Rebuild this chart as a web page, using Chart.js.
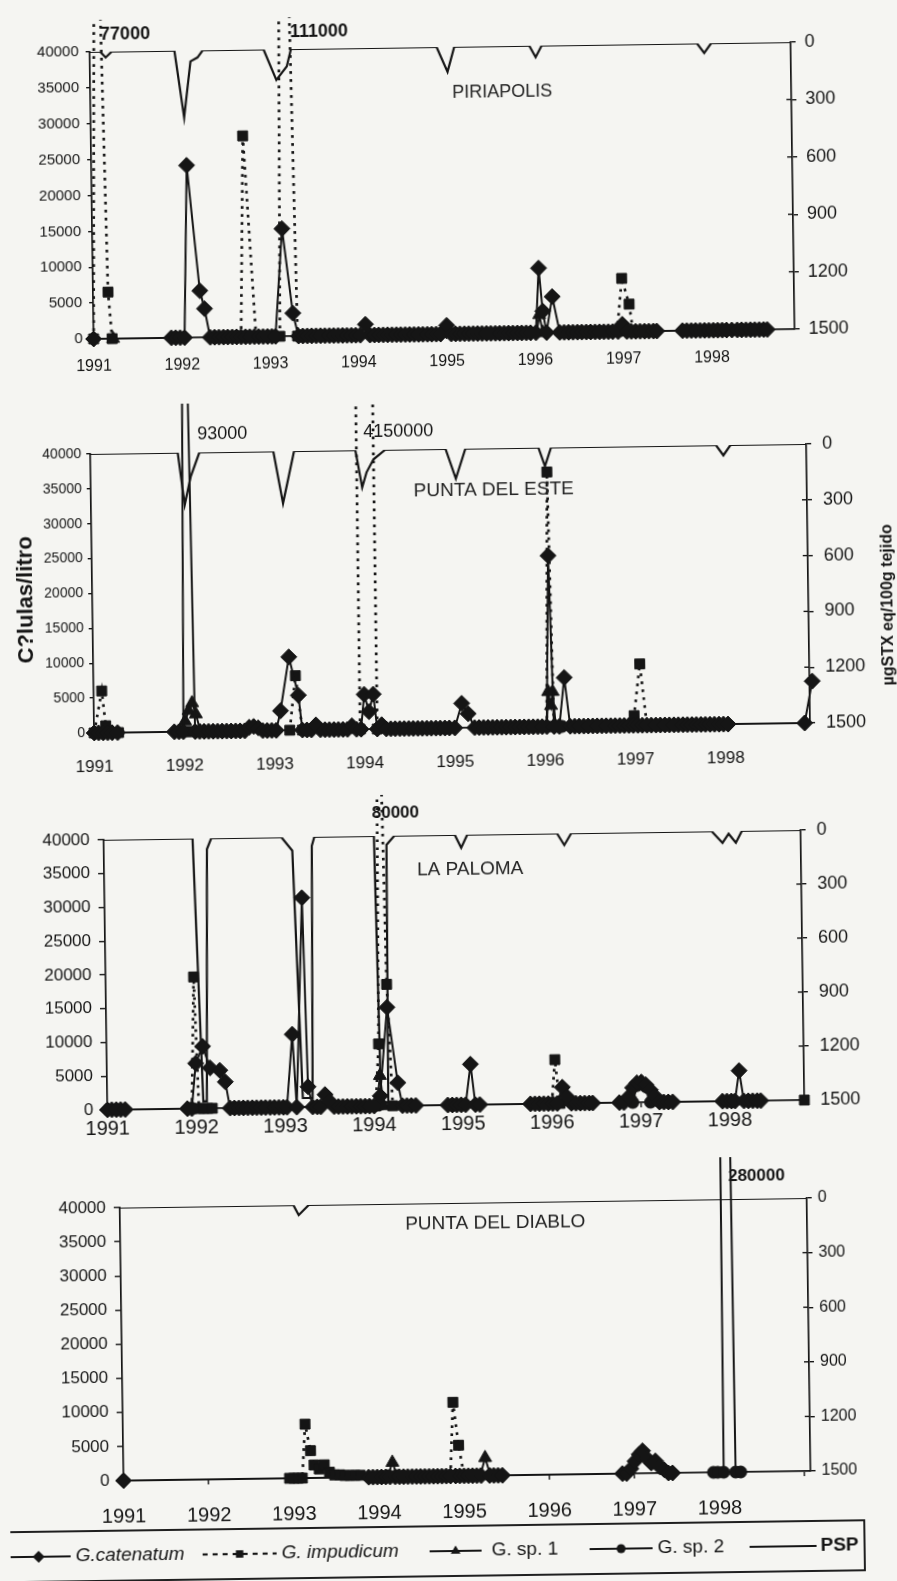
<!DOCTYPE html>
<html>
<head>
<meta charset="utf-8">
<script src="https://cdn.jsdelivr.net/npm/chart.js@4.4.1/dist/chart.umd.min.js"></script>
<style>
html,body{margin:0;padding:0;background:#f5f5f2;}
body{width:897px;height:1581px;overflow:hidden;position:relative;}
#page{position:absolute;left:0;top:0;width:897px;height:1581px;transform:rotate(-0.8deg);transform-origin:448.5px 790.5px;}
#page canvas{position:absolute;left:0;}
.ytitle{position:absolute;white-space:nowrap;font-family:'Liberation Sans',Arial,sans-serif;font-weight:bold;color:#161616;transform:translate(-50%,-50%) rotate(-90deg);}
</style>
</head>
<body>
<div id="page">
  <canvas id="c1" width="897" height="379" style="top:0px"></canvas>
  <canvas id="c2" width="897" height="387" style="top:389px"></canvas>
  <canvas id="c3" width="897" height="369" style="top:776px"></canvas>
  <canvas id="c4" width="897" height="436" style="top:1145px"></canvas>
  <div class="ytitle" style="left:28px;top:594px;font-size:22px">C?lulas/litro</div>
  <div class="ytitle" style="left:890px;top:611px;font-size:16px">µgSTX eq/100g tejido</div>
</div>
<script>
// ---------------- DATA ----------------
const yearLabels = ['1991','1992','1993','1994','1995','1996','1997','1998'];
const seriesNames = ['G.catenatum','G. impudicum','G. sp. 1','G. sp. 2','PSP'];
const stationNames = ['PIRIAPOLIS','PUNTA DEL ESTE','LA PALOMA','PUNTA DEL DIABLO'];

// PIRIAPOLIS  [decimal year, cells/litre]
const piriCatenatum = [
 [1991.00,0],
 [1991.88,0],[1991.93,0],[1991.98,0],[1992.03,0],[1992.08,24000],[1992.21,6500],[1992.26,4000],
 [1992.32,0],[1992.37,0],[1992.42,0],[1992.47,0],[1992.52,0],[1992.57,0],[1992.62,0],[1992.67,0],[1992.72,0],[1992.77,0],[1992.82,0],[1992.87,0],[1992.92,0],[1992.97,0],[1993.02,0],[1993.06,0],
 [1993.15,15000],[1993.26,3200],
 [1993.32,0],[1993.37,0],[1993.42,0],[1993.47,0],[1993.52,0],[1993.57,0],[1993.62,0],[1993.67,0],[1993.72,0],[1993.77,0],[1993.82,0],[1993.87,0],[1993.92,0],[1993.97,0],[1994.02,0],[1994.08,1500],
 [1994.13,0],[1994.18,0],[1994.23,0],[1994.28,0],[1994.33,0],[1994.38,0],[1994.43,0],[1994.48,0],[1994.53,0],[1994.58,0],[1994.63,0],[1994.68,0],[1994.73,0],[1994.78,0],[1994.83,0],[1994.88,0],[1994.93,0],[1995.00,1200],
 [1995.05,0],[1995.10,0],[1995.15,0],[1995.20,0],[1995.25,0],[1995.30,0],[1995.35,0],[1995.40,0],[1995.45,0],[1995.50,0],[1995.55,0],[1995.60,0],[1995.65,0],[1995.70,0],[1995.75,0],[1995.80,0],[1995.85,0],[1995.90,0],[1995.95,0],
 [1996.01,0],[1996.05,9000],[1996.09,3000],[1996.13,0],[1996.20,5000],[1996.28,0],
 [1996.33,0],[1996.38,0],[1996.43,0],[1996.48,0],[1996.53,0],[1996.58,0],[1996.63,0],[1996.68,0],[1996.73,0],[1996.78,0],[1996.83,0],[1996.88,0],[1996.94,0],[1996.99,1000],
 [1997.04,0],[1997.09,0],[1997.14,0],[1997.19,0],[1997.24,0],[1997.29,0],[1997.34,0],[1997.38,0],
 [1997.67,0],[1997.72,0],[1997.77,0],[1997.82,0],[1997.87,0],[1997.92,0],[1997.97,0],[1998.02,0],[1998.07,0],[1998.12,0],[1998.17,0],[1998.23,0],
 [1998.29,0],[1998.34,0],[1998.39,0],[1998.44,0],[1998.49,0],[1998.54,0],[1998.59,0],[1998.63,0]
];
const piriImpudicum = [
 [1991.00,0],[1991.09,77000],[1991.17,6500],[1991.21,0],[1991.5,null],
 [1992.67,0],[1992.72,28000],[1992.84,0],[1993.0,null],
 [1993.11,0],[1993.20,111000],[1993.31,0],[1995.0,null],
 [1996.93,0],[1996.99,7400],[1997.07,3800],[1997.11,0]
];
const piriSp1 = [[1991.22,0],[1991.5,null],[1996.02,0],[1996.05,2500],[1996.09,0]];
const piriSp2 = [[1997.72,0],[1997.82,0],[1997.92,0],[1998.02,0],[1998.12,0],[1998.34,0],[1998.44,0],[1998.54,0]];
// PSP  [decimal year, µgSTX eq/100g]
const piriPsp = [
 [1991.00,0],[1991.12,0],[1991.18,30],[1991.25,0],
 [1991.96,0],[1992.06,350],[1992.14,57],[1992.22,37],[1992.28,0],
 [1992.97,0],[1993.11,160],[1993.23,90],[1993.28,0],
 [1994.93,0],[1995.05,130],[1995.13,0],
 [1995.98,0],[1996.05,60],[1996.12,0],
 [1997.88,0],[1997.96,50],[1998.04,0],
 [1998.94,0]
];
const piriPeakLabels = [[1991.12,'77000'],[1993.27,'111000']];

// PUNTA DEL ESTE
const pdeCatenatum = [
 [1991.00,0],[1991.05,0],[1991.10,0],[1991.15,0],[1991.20,0],[1991.26,0],
 [1991.89,0],[1991.94,0],[1991.99,0],[1992.06,93000],[1992.12,0],
 [1992.17,0],[1992.22,0],[1992.27,0],[1992.32,0],[1992.37,0],[1992.42,0],[1992.47,0],[1992.52,0],[1992.57,0],[1992.62,0],[1992.67,0],[1992.72,500],[1992.77,600],[1992.82,400],[1992.87,0],[1992.92,0],[1992.97,0],[1993.02,0],
 [1993.07,2800],[1993.17,10500],[1993.27,5000],[1993.31,0],
 [1993.36,0],[1993.41,0],[1993.46,700],[1993.51,0],[1993.56,0],[1993.61,0],[1993.66,0],[1993.71,0],[1993.76,0],[1993.81,0],[1993.86,500],[1993.91,0],[1993.96,0],
 [1994.00,5000],[1994.05,2500],[1994.10,5000],[1994.14,0],
 [1994.19,600],[1994.24,0],[1994.29,0],[1994.34,0],[1994.39,0],[1994.44,0],[1994.49,0],[1994.54,0],[1994.59,0],[1994.64,0],[1994.69,0],[1994.74,0],[1994.79,0],[1994.84,0],[1994.89,0],[1994.94,0],[1995.00,0],
 [1995.08,3500],[1995.15,2000],[1995.22,0],
 [1995.27,0],[1995.32,0],[1995.37,0],[1995.42,0],[1995.47,0],[1995.52,0],[1995.57,0],[1995.62,0],[1995.67,0],[1995.72,0],[1995.77,0],[1995.82,0],[1995.87,0],[1995.92,0],[1995.97,0],[1996.02,0],
 [1996.06,24500],[1996.10,0],[1996.16,0],[1996.22,7000],[1996.28,0],
 [1996.33,0],[1996.38,0],[1996.43,0],[1996.48,0],[1996.53,0],[1996.58,0],[1996.63,0],[1996.68,0],[1996.73,0],[1996.78,0],[1996.83,0],[1996.88,0],[1996.93,0],[1996.98,0],
 [1997.03,0],[1997.08,0],[1997.13,0],[1997.18,0],[1997.23,0],[1997.28,0],[1997.33,0],[1997.38,0],[1997.43,0],[1997.48,0],[1997.53,0],[1997.58,0],[1997.63,0],[1997.68,0],[1997.73,0],[1997.78,0],[1997.83,0],[1997.88,0],[1997.93,0],[1997.98,0],[1998.03,0],
 [1998.88,0],[1998.97,6000]
];
const pdeImpudicum = [
 [1991.00,0],[1991.09,6000],[1991.13,1000],[1991.17,0],[1991.22,0],[1991.27,0],[1991.5,null],
 [1991.92,0],[1991.97,0],[1992.02,0],[1992.08,0],[1992.13,0],[1992.18,0],[1992.23,0],[1992.5,null],
 [1993.17,0],[1993.24,7800],[1993.31,0],[1993.6,null],
 [1993.95,0],[1994.05,4150000],[1994.14,0],[1994.5,null],
 [1996.02,0],[1996.06,36500],[1996.10,0],[1996.5,null],
 [1996.95,0],[1996.99,1400],[1997.06,8800],[1997.13,0]
];
const pdeSp1 = [
 [1991.95,0],[1992.01,1500],[1992.05,3000],[1992.09,4100],[1992.13,2500],[1992.18,0],[1992.5,null],
 [1996.02,0],[1996.04,5000],[1996.07,3000],[1996.09,5000],[1996.12,0]
];
const pdeSp2 = [[1996.14,0],[1996.19,0],[1996.5,null],[1997.55,0],[1997.65,0],[1997.75,0]];
const pdePsp = [
 [1991.00,0],[1991.97,0],[1992.04,280],[1992.11,130],[1992.21,0],
 [1993.03,0],[1993.13,280],[1993.26,0],
 [1993.94,0],[1994.01,200],[1994.06,120],[1994.14,50],[1994.27,0],
 [1994.94,0],[1995.05,160],[1995.16,0],
 [1995.97,0],[1996.04,100],[1996.11,0],
 [1997.94,0],[1998.02,55],[1998.10,0],
 [1998.94,0]
];
const pdePeakLabels = [[1992.19,'93000'],[1994.03,'4150000']];

// LA PALOMA
const lpCatenatum = [
 [1991.00,0],[1991.05,0],[1991.10,0],[1991.15,0],[1991.20,0],
 [1991.90,0],[1991.95,0],[1992.00,6700],[1992.08,9200],[1992.16,6000],[1992.27,5600],[1992.33,3900],[1992.38,0],
 [1992.43,0],[1992.48,0],[1992.53,0],[1992.58,0],[1992.63,0],[1992.68,0],[1992.73,0],[1992.78,0],[1992.83,0],[1992.88,0],[1992.93,0],[1992.98,0],[1993.02,0],
 [1993.09,10800],[1993.13,0],[1993.22,31000],[1993.26,3000],[1993.31,0],
 [1993.36,0],[1993.40,0],[1993.45,1800],[1993.50,800],[1993.55,0],[1993.60,0],[1993.65,0],[1993.70,0],[1993.75,0],[1993.80,0],[1993.85,0],[1993.90,0],[1993.95,0],[1994.00,0],
 [1994.07,1500],[1994.16,14600],[1994.27,3400],[1994.32,0],[1994.37,0],[1994.42,0],[1994.47,0],
 [1994.83,0],[1994.88,0],[1994.93,0],[1994.98,0],[1995.03,0],[1995.09,6000],[1995.14,0],[1995.19,0],
 [1995.76,0],[1995.81,0],[1995.86,0],[1995.91,0],[1995.96,0],[1996.01,0],[1996.06,0],[1996.12,2400],[1996.17,1000],[1996.22,0],[1996.27,0],[1996.32,0],[1996.37,0],[1996.42,0],[1996.46,0],
 [1996.76,0],[1996.81,0],[1996.86,800],[1996.91,2200],[1996.96,2900],[1997.01,3000],[1997.06,2600],[1997.11,1800],[1997.16,900],[1997.21,0],[1997.26,0],[1997.31,0],[1997.36,0],
 [1997.92,0],[1997.97,0],[1998.02,0],[1998.06,0],[1998.11,4500],[1998.16,0],[1998.21,0],[1998.26,0],[1998.31,0],[1998.35,0]
];
const lpImpudicum = [
 [1991.02,0],[1991.08,0],[1991.14,0],[1991.4,null],
 [1991.95,0],[1991.99,19500],[1992.03,0],[1992.08,0],[1992.13,0],[1992.18,0],[1992.4,null],
 [1994.02,0],[1994.06,9200],[1994.10,80000],[1994.16,18000],[1994.21,0],[1994.6,null],
 [1996.00,0],[1996.04,6500],[1996.09,0],[1996.5,null],
 [1998.84,0]
];
const lpSp1 = [[1994.03,0],[1994.07,4500],[1994.11,0]];
const lpSp2 = [[1996.91,0],[1996.96,2500],[1997.01,2700],[1997.06,2300],[1997.11,0]];
const lpPsp = [
 [1991.00,0],[1992.00,0],[1992.08,1460],[1992.12,1460],[1992.16,60],[1992.21,0],
 [1993.00,0],[1993.12,75],[1993.20,1450],[1993.31,1450],[1993.34,50],[1993.37,0],
 [1994.04,0],[1994.08,1480],[1994.16,1480],[1994.18,50],[1994.27,0],
 [1994.95,0],[1995.02,72],[1995.09,0],
 [1996.10,0],[1996.18,65],[1996.26,0],
 [1997.84,0],[1997.96,65],[1998.03,15],[1998.11,65],[1998.18,0],
 [1998.84,0]
];
const lpPeakLabels = [[1994.02,'80000']];

// PUNTA DEL DIABLO
const pddCatenatum = [
 [1991.00,0],
 [1993.88,0],[1993.93,0],[1993.98,0],[1994.03,0],[1994.08,0],[1994.13,0],[1994.19,0],[1994.24,0],[1994.29,0],[1994.34,0],[1994.39,0],[1994.44,0],[1994.49,0],[1994.54,0],[1994.59,0],[1994.64,0],[1994.69,0],[1994.74,0],[1994.79,0],[1994.84,0],[1994.90,0],[1994.95,0],[1995.00,0],[1995.05,0],[1995.10,0],[1995.15,0],[1995.20,0],[1995.30,0],[1995.35,0],[1995.40,0],[1995.45,0],
 [1996.86,0],[1996.91,0],[1996.96,700],[1997.01,1800],[1997.06,2800],[1997.10,3300],[1997.15,2200],[1997.20,1500],[1997.25,1800],[1997.30,900],[1997.35,500],[1997.40,0],[1997.45,0]
];
const pddImpudicum = [
 [1992.95,0],[1993.00,0],[1993.05,0],[1993.10,0],[1993.14,7900],[1993.20,4000],[1993.24,1900],[1993.30,1300],[1993.36,1900],[1993.42,800],[1993.48,400],[1993.54,400],[1993.60,300],[1993.66,300],[1993.72,300],[1993.78,300],[1994.0,null],
 [1994.84,0],[1994.88,10800],[1994.94,4500],[1995.00,0]
];
const pddSp1 = [[1994.10,0],[1994.16,2100],[1994.22,0],[1995.0,null],[1995.19,0],[1995.25,2600],[1995.31,0]];
const pddSp2 = [[1997.93,0],[1997.98,0],[1998.05,0],[1998.12,280000],[1998.19,0],[1998.25,0]];
const pddPsp = [[1991.00,0],[1993.04,0],[1993.10,55],[1993.22,0],[1999.07,0]];
const pddPeakLabels = [[1998.15,'280000']];

// ---------------- DRAWING ----------------
const FONT = "'Liberation Sans', Arial, Helvetica, sans-serif";
const INK = '#151515';
const W = 897;

const panels = [
 {id:'c1', station:stationNames[0], cat:piriCatenatum, imp:piriImpudicum, sp1:piriSp1, sp2:piriSp2, psp:piriPsp, peaks:piriPeakLabels,
  padTop:47, xAxisH:45, left:100, right:801, xMax:1998.94, clipTop:32, labelRise:17, labelWeight:'bold', labelSize:18,
  stationAt:[1995.10,33600], stationSize:18, yFont:15, yTick:4, yPad:7, xFont:16, xPad:13, rFont:18, rPad:9},
 {id:'c2', station:stationNames[1], cat:pdeCatenatum, imp:pdeImpudicum, sp1:pdeSp1, sp2:pdeSp2, psp:pdePsp, peaks:pdePeakLabels,
  padTop:60, xAxisH:48, left:95, right:811, xMax:1998.94, clipTop:49, labelRise:18, labelWeight:'normal', labelSize:18,
  stationAt:[1994.58,34000], stationSize:19, yFont:14, yTick:4, yPad:5, xFont:17, xPad:19, rFont:18, rPad:11},
 {id:'c3', station:stationNames[2], cat:lpCatenatum, imp:lpImpudicum, sp1:lpSp1, sp2:lpSp2, psp:lpPsp, peaks:lpPeakLabels,
  padTop:59, xAxisH:40, left:103, right:800, xMax:1998.84, clipTop:41, labelRise:23, labelWeight:'bold', labelSize:17,
  stationAt:[1994.52,34800], stationSize:19, yFont:17, yTick:6, yPad:8, xFont:20, xPad:2, rFont:18, rPad:11},
 {id:'c4', station:stationNames[3], cat:pddCatenatum, imp:pddImpudicum, sp1:pddSp1, sp2:pddSp2, psp:pddPsp, peaks:pddPeakLabels,
  padTop:58, xAxisH:105, left:114, right:801, xMax:1999.07, clipTop:42, labelRise:23, labelWeight:'bold', labelSize:17,
  stationAt:[1994.35,36900], stationSize:19, yFont:17, yTick:6, yPad:8, xFont:20, xPad:19, rFont:16, rPad:6, legend:true}
];

function toPoints(pairs){ return pairs.map(p => ({x:p[0], y:p[1]})); }

function drawMarker(ctx, style, x, y, r){
  ctx.beginPath();
  if (style === 'rectRot'){ ctx.moveTo(x-r,y); ctx.lineTo(x,y-r); ctx.lineTo(x+r,y); ctx.lineTo(x,y+r); ctx.closePath(); }
  else if (style === 'rect'){ const s = r*Math.SQRT1_2; ctx.rect(x-s,y-s,2*s,2*s); }
  else if (style === 'triangle'){ ctx.moveTo(x,y-r); ctx.lineTo(x+r*0.866,y+r*0.5); ctx.lineTo(x-r*0.866,y+r*0.5); ctx.closePath(); }
  else if (style === 'circle'){ ctx.arc(x,y,r,0,Math.PI*2); }
  ctx.fill();
}

function buildDatasets(p){
  const clip = {left:14, right:14, bottom:14, top:p.clipTop};
  const base = {borderColor:INK, backgroundColor:INK, pointBackgroundColor:INK, pointBorderColor:INK,
                pointBorderWidth:1, tension:0, spanGaps:false, clip:clip, yAxisID:'y'};
  return [
    Object.assign({}, base, {label:seriesNames[0], data:toPoints(p.cat), borderWidth:2, pointStyle:'rectRot', pointRadius:8}),
    Object.assign({}, base, {label:seriesNames[1], data:toPoints(p.imp), borderWidth:2.7, borderDash:[2.7,5.3], pointStyle:'rect', pointRadius:7}),
    Object.assign({}, base, {label:seriesNames[2], data:toPoints(p.sp1), borderWidth:2, pointStyle:'triangle', pointRadius:7.5}),
    Object.assign({}, base, {label:seriesNames[3], data:toPoints(p.sp2), borderWidth:2, pointStyle:'circle', pointRadius:6}),
    {label:seriesNames[4], data:toPoints(p.psp), yAxisID:'y2', borderColor:INK, backgroundColor:INK, borderWidth:2.2, pointRadius:0, tension:0}
  ];
}

function annotPlugin(p){
  return {
    id:'annot_'+p.id,
    afterDraw(chart){
      const ctx = chart.ctx, xs = chart.scales.x, ys = chart.scales.y, r2 = chart.scales.y2, ca = chart.chartArea;
      ctx.save();
      // inner half of the right-axis tick marks
      ctx.strokeStyle = INK; ctx.lineWidth = 1.4;
      r2.ticks.forEach(t => {
        if (t.value <= 0 || t.value >= 1500) return;
        const yy = r2.getPixelForValue(t.value);
        ctx.beginPath(); ctx.moveTo(ca.right-5, yy); ctx.lineTo(ca.right, yy); ctx.stroke();
      });
      // station name
      ctx.fillStyle = '#232323';
      ctx.textBaseline = 'middle'; ctx.textAlign = 'left';
      ctx.font = 'normal ' + p.stationSize + 'px ' + FONT;
      ctx.fillText(p.station, xs.getPixelForValue(p.stationAt[0]), ys.getPixelForValue(p.stationAt[1]));
      // off-scale peak labels
      ctx.fillStyle = INK;
      ctx.font = p.labelWeight + ' ' + p.labelSize + 'px ' + FONT;
      p.peaks.forEach(l => ctx.fillText(l[1], xs.getPixelForValue(l[0]), ca.top - p.labelRise));
      // legend
      if (p.legend){
        const ds = chart.data.datasets;
        const top = 381, bottom = 431, cy = 406;
        ctx.lineWidth = 1.9; ctx.strokeStyle = INK;
        ctx.strokeRect(-5, top, 859, bottom-top);
        const items = [
          {i:0, x1:-4, x2:60, tx:65, font:'italic normal'},
          {i:1, x1:192, x2:266, tx:271, font:'italic normal'},
          {i:2, x1:419, x2:471, tx:481, font:'normal normal'},
          {i:3, x1:579, x2:642, tx:647, font:'normal normal'},
          {i:4, x1:739, x2:806, tx:810, font:'normal bold'}
        ];
        items.forEach(it => {
          const d = ds[it.i];
          ctx.save();
          ctx.strokeStyle = INK; ctx.lineWidth = it.i === 1 ? 2.2 : 1.9;
          ctx.setLineDash(it.i === 1 ? [5,5] : []);
          ctx.beginPath(); ctx.moveTo(it.x1, cy); ctx.lineTo(it.x2, cy); ctx.stroke();
          ctx.restore();
          if (d.pointRadius) { ctx.fillStyle = INK; drawMarker(ctx, d.pointStyle, (it.x1+it.x2)/2, cy, d.pointRadius*0.75); }
          ctx.fillStyle = INK;
          ctx.font = it.font + ' 19px ' + FONT;
          ctx.textBaseline = 'middle';
          ctx.fillText(d.label, it.tx, cy);
        });
      }
      ctx.restore();
    }
  };
}

panels.forEach(p => {
  const cv = document.getElementById(p.id);
  new Chart(cv, {
    type:'line',
    data:{datasets:buildDatasets(p)},
    options:{
      responsive:false, animation:false, devicePixelRatio:1, events:[],
      layout:{padding:{top:p.padTop, left:0, right:0, bottom:0}},
      plugins:{legend:{display:false}, tooltip:{enabled:false}},
      scales:{
        x:{type:'linear', min:1991, max:p.xMax,
           afterFit(s){ s.height = p.xAxisH; },
           border:{display:true, color:INK, width:1.7},
           grid:{display:true, drawOnChartArea:false, drawTicks:true, tickLength:5, color:INK, lineWidth:1.4},
           ticks:{stepSize:1, includeBounds:false, autoSkip:false, maxRotation:0, minRotation:0, color:INK,
                  padding:p.xPad, font:{family:FONT, size:p.xFont},
                  callback:v => { const s = yearLabels[Math.round(v-1991)]; return s === undefined ? '' : s; }}},
        y:{position:'left', min:0, max:40000,
           afterFit(s){ s.width = p.left; },
           border:{display:true, color:INK, width:1.7},
           grid:{display:true, drawOnChartArea:false, tickLength:p.yTick, color:INK, lineWidth:1.4},
           ticks:{stepSize:5000, color:INK, padding:p.yPad, font:{family:FONT, size:p.yFont}, callback:v => String(v)}},
        y2:{position:'right', min:0, max:1500, reverse:true,
           afterFit(s){ s.width = W - p.right; },
           border:{display:true, color:INK, width:1.7},
           grid:{display:true, drawOnChartArea:false, tickLength:5, color:INK, lineWidth:1.4},
           ticks:{stepSize:300, color:INK, padding:p.rPad, font:{family:FONT, size:p.rFont}, callback:v => String(v)}}
      }
    },
    plugins:[annotPlugin(p)]
  });
});
</script>
</body>
</html>
